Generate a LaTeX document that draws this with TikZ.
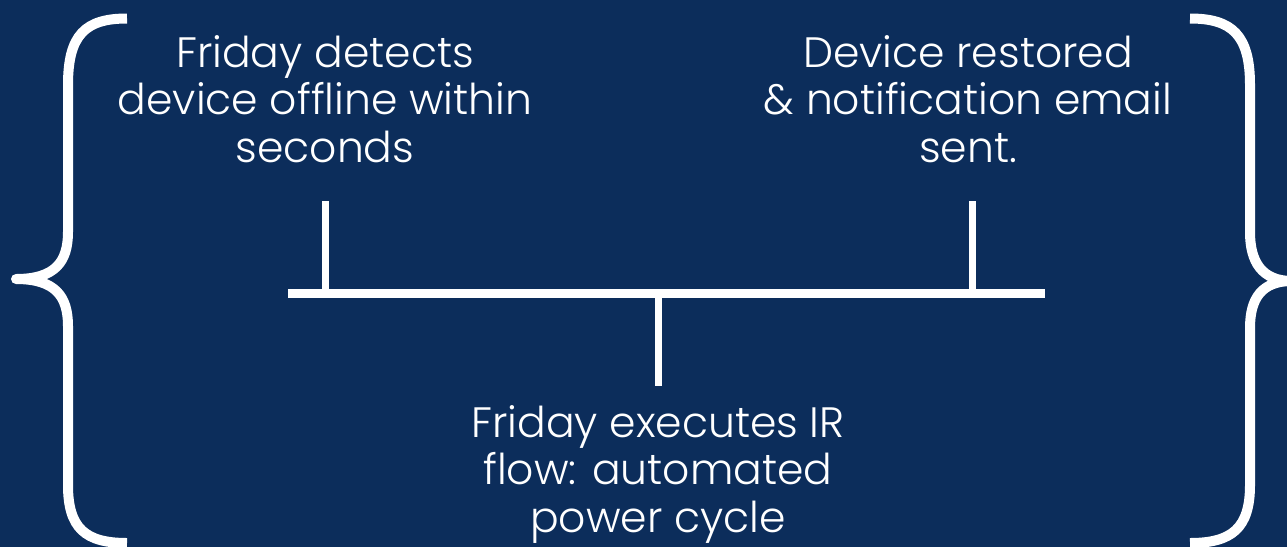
\documentclass[tikz,border=0pt]{standalone}
\usepackage{fontspec}
\setmainfont{Poppins}[UprightFont=* Light]
\definecolor{navy}{RGB}{12,45,91}
\begin{document}
\begin{tikzpicture}[x=1pt,y=-1pt,
  label/.style={text=white,align=center,inner sep=0pt,anchor=north,
    font=\fontsize{42.5}{47.5}\selectfont},
  bar/.style={draw=white,line width=8.5pt},
  tick/.style={draw=white,line width=7pt},
  brace/.style={draw=white,line width=10pt,line cap=butt,line join=round}]
\fill[navy] (0,0) rectangle (1287,547);
\useasboundingbox (0,0) rectangle (1287,547);
% braces
\draw[brace] (127,18.5) .. controls (85,18.5) and (68,35) .. (68,85)
  -- (68,232) .. controls (68,262) and (55,279) .. (16,279)
  .. controls (55,279) and (68,296) .. (68,326)
  -- (68,485) .. controls (68,528) and (85,543) .. (127,543);
\draw[brace] (1190,18.5) .. controls (1232,18.5) and (1250,35) .. (1250,85)
  -- (1250,232) .. controls (1250,262) and (1262,281) .. (1292,281)
  .. controls (1262,281) and (1250,298) .. (1250,328)
  -- (1250,485) .. controls (1250,528) and (1232,543) .. (1190,543);
% text
\node[label] (detect) at (325,35) {Friday detects\\device offline within\\seconds};
\node[label] (restore) at (968,35) {Device restored\\\& notification email\\sent.};
\node[label] (exec) at (658,405) {Friday executes IR\\flow: automated\\power cycle};
% connectors
\coordinate (hl) at (288,293.5);
\coordinate (hr) at (1045,293.5);
\coordinate (dtop) at (325,201);
\coordinate (dbot) at (325,293.5);
\coordinate (rtop) at (972,201);
\coordinate (rbot) at (972,293.5);
\coordinate (etop) at (658,293.5);
\coordinate (ebot) at (658,386);
\draw[tick] (dtop) -- (dbot);
\draw[tick] (rtop) -- (rbot);
\draw[tick] (etop) -- (ebot);
\draw[bar] (hl) -- (hr);
\end{tikzpicture}
\end{document}
